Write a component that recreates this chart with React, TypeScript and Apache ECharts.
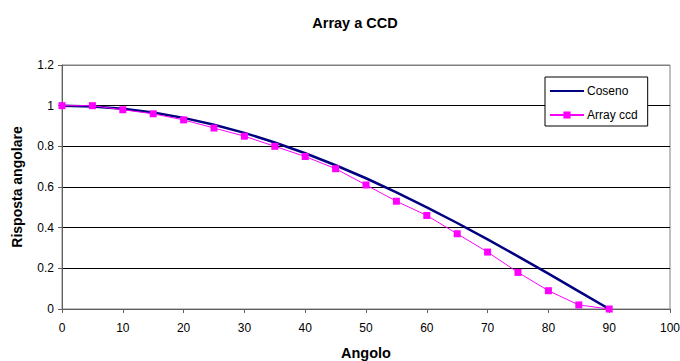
import React, { useEffect, useRef } from "react";
import * as echarts from "echarts";

const angles = [0, 5, 10, 15, 20, 25, 30, 35, 40, 45, 50, 55, 60, 65, 70, 75, 80, 85, 90];
const coseno = [1, 0.996, 0.985, 0.966, 0.94, 0.906, 0.866, 0.819, 0.766, 0.707, 0.643, 0.574, 0.5, 0.423, 0.342, 0.259, 0.174, 0.087, 0];
const arrayCcd = [1, 1, 0.98, 0.96, 0.93, 0.89, 0.85, 0.8, 0.75, 0.69, 0.61, 0.53, 0.46, 0.37, 0.28, 0.18, 0.09, 0.02, 0];

const FONT = "'Liberation Sans', Arial, sans-serif";

export default function App() {
  const ref = useRef<HTMLDivElement>(null);
  useEffect(() => {
    if (!ref.current) return;
    const chart = echarts.init(ref.current, null, { renderer: "svg" });
    chart.setOption({
      animation: false,
      backgroundColor: "#ffffff",
      title: {
        text: "Array a CCD",
        left: 350,
        top: 10,
        textAlign: "center",
        textStyle: { fontFamily: FONT, fontSize: 14.5, fontWeight: "bold", color: "#000" },
      },
      legend: {
        orient: "vertical",
        left: 545,
        top: 77,
        padding: [8, 10, 5, 4],
        itemGap: 12,
        itemWidth: 34,
        itemHeight: 9,
        borderColor: "#000",
        borderWidth: 1,
        backgroundColor: "#fff",
        textStyle: { fontFamily: FONT, fontSize: 12, color: "#000", padding: [0, 0, 0, -2] },
        data: [
          { name: "Coseno", itemStyle: { opacity: 0 } },
          { name: "Array ccd" },
        ],
      },
      grid: {
        left: 62,
        right: 10,
        top: 65,
        bottom: 52,
        show: true,
        borderColor: "#808080",
        borderWidth: 1,
        outerBoundsMode: "none",
        containLabel: false,
      },
      xAxis: {
        type: "value",
        min: 0,
        max: 100,
        interval: 10,
        name: "Angolo",
        nameLocation: "middle",
        nameGap: 36,
        nameMoveOverlap: false,
        nameTextStyle: { fontFamily: FONT, fontSize: 14.5, fontWeight: "bold", color: "#000" },
        axisLine: { lineStyle: { color: "#606060", width: 1 } },
        axisTick: { show: true, inside: false, length: 4, lineStyle: { color: "#606060" } },
        axisLabel: { fontFamily: FONT, fontSize: 12, color: "#000", margin: 13 },
        splitLine: { show: false },
      },
      yAxis: {
        type: "value",
        min: 0,
        max: 1.2,
        interval: 0.2,
        name: "Risposta angolare",
        nameLocation: "middle",
        nameGap: 38,
        nameMoveOverlap: false,
        nameTextStyle: { fontFamily: FONT, fontSize: 14, fontWeight: "bold", color: "#000" },
        axisLine: { show: true, lineStyle: { color: "#606060", width: 1 } },
        axisTick: { show: true, inside: false, length: 4, lineStyle: { color: "#606060" } },
        axisLabel: {
          fontFamily: FONT,
          fontSize: 12,
          color: "#000",
          margin: 8,
          formatter: (v: number) => String(Math.round(v * 10) / 10),
        },
        splitLine: {
          show: true,
          lineStyle: { color: ["#808080", "#000", "#000", "#000", "#000", "#000", "#808080"], width: 1 },
        },
      },
      series: [
        {
          name: "Coseno",
          type: "line",
          data: angles.map((a, i) => [a, coseno[i]]),
          symbol: "none",
          lineStyle: { color: "#000080", width: 2.5 },
          itemStyle: { color: "#000080" },
          z: 2,
        },
        {
          name: "Array ccd",
          type: "line",
          data: angles.map((a, i) => [a, arrayCcd[i]]),
          symbol: "rect",
          symbolSize: 7,
          lineStyle: { color: "#ff00ff", width: 1 },
          itemStyle: { color: "#ff00ff" },
          z: 3,
        },
      ],
    });
    return () => chart.dispose();
  }, []);
  return <div ref={ref} style={{ width: 680, height: 361, position: "absolute", left: 0, top: 0 }} />;
}
